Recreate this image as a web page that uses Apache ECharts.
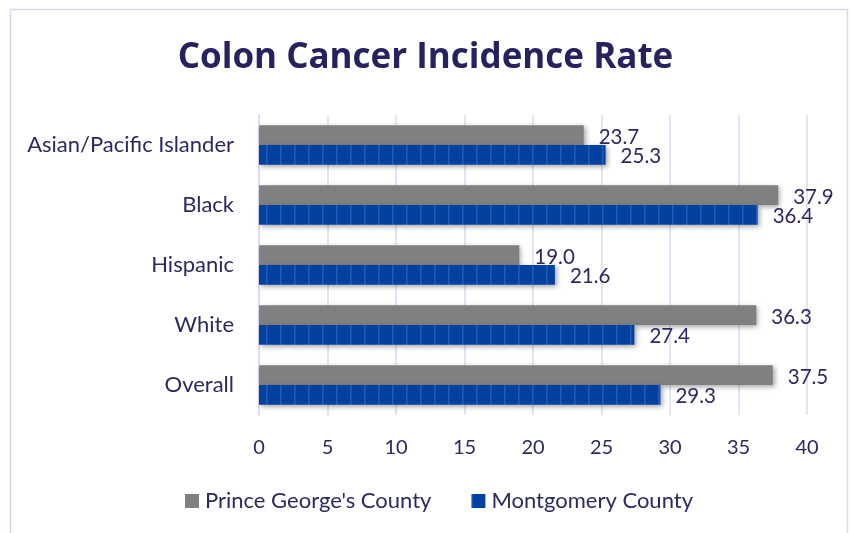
<!DOCTYPE html>
<html><head><meta charset="utf-8">
<script src="https://cdn.jsdelivr.net/npm/echarts@6/dist/echarts.min.js"></script>
<style>html,body{margin:0;padding:0;background:#fff}#chart{width:851px;height:533px}</style>
</head><body><div id="chart"></div>
<script>
// Colon cancer incidence rate by race/ethnicity, two counties
const categories = ['Asian/Pacific Islander', 'Black', 'Hispanic', 'White', 'Overall'];
const princeGeorges = [23.7, 37.9, 19.0, 36.3, 37.5];
const montgomery = [25.3, 36.4, 21.6, 27.4, 29.3];
const seriesNames = ["Prince George's County", 'Montgomery County'];
const xMin = 0, xMax = 40, xStep = 5;

const textColor = '#2b2960';
const fontFamily = 'Lato, "Open Sans", sans-serif';

// striped blue fill: dark blue with thin lighter vertical lines
function stripePattern() {
  const c = document.createElement('canvas');
  c.width = 14; c.height = 4;
  const g = c.getContext('2d');
  g.fillStyle = '#0341a0';
  g.fillRect(0, 0, 14, 4);
  g.fillStyle = '#1d5db9';
  g.fillRect(0, 0, 1, 4);
  g.fillStyle = '#124fae';
  g.fillRect(1, 0, 1, 4);
  return c;
}
const blueFill = { image: stripePattern(), repeat: 'repeat' };

const chart = echarts.init(document.getElementById('chart'), null, { renderer: 'canvas' });

const barShadow = {
  shadowBlur: 5,
  shadowColor: 'rgba(0,0,0,0.35)',
  shadowOffsetX: 2,
  shadowOffsetY: 2
};
const valueLabel = {
  show: true,
  position: 'right',
  distance: 15,
  offset: [0, 2],
  color: textColor,
  fontSize: 20.5,
  fontFamily: fontFamily,
  formatter: p => p.value.toFixed(1)
};

chart.setOption({
  backgroundColor: '#ffffff',
  animation: false,
  graphic: [{
    type: 'rect',
    shape: { x: 10.5, y: 9.5, width: 837, height: 540 },
    style: { fill: 'none', stroke: '#d9d8ef', lineWidth: 1.5 },
    silent: true
  }],
  title: {
    text: 'Colon Cancer Incidence Rate',
    left: 'center',
    top: 36,
    textStyle: { color: '#25225f', fontSize: 35, fontWeight: 'bold', fontFamily: '"Open Sans", Lato, sans-serif' }
  },
  legend: {
    top: 485,
    left: 180,
    itemWidth: 14,
    itemHeight: 14,
    itemGap: 40,
    icon: 'rect',
    textStyle: { color: textColor, fontSize: 22, fontFamily: fontFamily, padding: [0, 0, 0, 1] },
    data: seriesNames
  },
  grid: { left: 259, right: 44, top: 115, bottom: 118, containLabel: false },
  xAxis: {
    type: 'value',
    min: xMin, max: xMax, interval: xStep,
    axisLine: { show: false },
    axisTick: { show: false },
    splitLine: { show: true, lineStyle: { color: '#dcdaf0', width: 1.5 } },
    axisLabel: { color: textColor, fontSize: 20, fontFamily: fontFamily, margin: 23 }
  },
  yAxis: {
    type: 'category',
    inverse: true,
    data: categories,
    axisLine: { show: true, lineStyle: { color: '#dcdaf0', width: 1.5 } },
    axisTick: { show: false },
    axisLabel: { color: textColor, fontSize: 22, fontFamily: fontFamily, margin: 25 }
  },
  series: [
    {
      name: seriesNames[0],
      type: 'bar',
      data: princeGeorges,
      barWidth: 19.7,
      barGap: '0%',
      itemStyle: Object.assign({ color: '#808080' }, barShadow),
      label: valueLabel
    },
    {
      name: seriesNames[1],
      type: 'bar',
      data: montgomery,
      barWidth: 19.7,
      barGap: '0%',
      itemStyle: Object.assign({ color: blueFill }, barShadow),
      label: valueLabel
    }
  ]
});
</script>
</body></html>
